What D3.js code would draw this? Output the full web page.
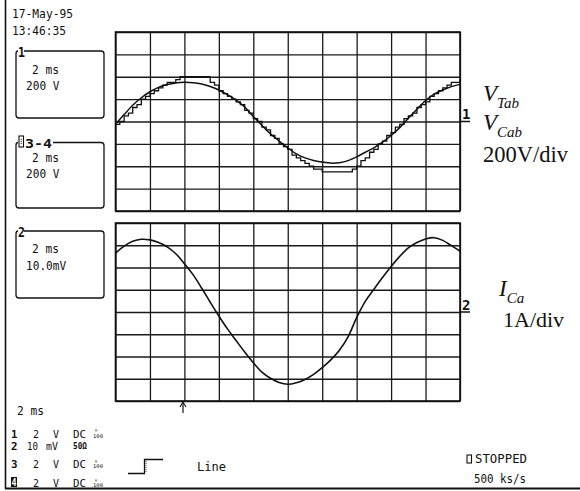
<!DOCTYPE html>
<html>
<head>
<meta charset="utf-8">
<script src="https://cdn.jsdelivr.net/npm/d3@7"></script>
<style>
  body { margin: 0; background: #fff; }
  .mono { font-family: "DejaVu Sans Mono", monospace; fill: #111; }
  .serif { font-family: "Liberation Serif", "Times New Roman", serif; fill: #111; }
</style>
</head>
<body>
<svg id="scope" width="580" height="491"></svg>
<script>
// time axis in ms, 2 ms/div
const timeTicks = [0, 2, 4, 6, 8, 10, 12, 14, 16, 18, 20];
const voltTicks = [-800, -600, -400, -200, 0, 200, 400, 600, 800];
const ampTicks = [-4, -3, -2, -1, 0, 1, 2, 3, 4];

// V_Cab (smooth), sampled every 0.5 ms
const tSmooth = d3.range(0, 20.01, 0.5);
const vCab = [-25, 62, 145, 212, 266, 305, 330, 345, 350, 347, 336, 313, 282, 240, 192, 130, 45, -35,
  -110, -175, -235, -290, -325, -348, -362, -372, -368, -350, -316, -275, -235, -185, -125, -55,
  30, 110, 188, 245, 282, 312, 332];

// V_Tab (stepped), sampled every 0.25 ms
const tStep = d3.range(0, 20.01, 0.25);
const vTab = [-25, 0, 50, 75, 125, 150, 200, 225, 250, 275, 300, 325, 350, 350, 375, 400, 400, 400, 400, 400,
  400, 400, 350, 325, 275, 250, 225, 200, 175, 150, 100, 75, 25, 0, -50, -75, -125, -150, -200, -225,
  -250, -300, -325, -350, -375, -400, -425, -425, -450, -450, -450, -450, -450, -450, -450, -425, -400, -350, -325, -275,
  -250, -200, -175, -125, -100, -50, -25, 25, 50, 75, 125, 150, 175, 225, 250, 275, 300, 325, 350, 350, 375];

// I_Ca, sampled every 0.5 ms (A)
const iCa = [2.64, 2.96, 3.18, 3.27, 3.24, 3.12, 2.93, 2.62, 2.17, 1.68, 1.08, 0.44, -0.18, -0.76, -1.28, -1.80,
  -2.28, -2.70, -2.98, -3.17, -3.25, -3.18, -3.03, -2.80, -2.50, -2.15, -1.72, -1.12, -0.25, 0.48, 1.02,
  1.55, 2.05, 2.50, 2.88, 3.12, 3.28, 3.34, 3.22, 2.98, 2.73];

const svg = d3.select("#scope");

const x = d3.scaleLinear().domain([0, 20]).range([115.5, 460]);
const yTop = d3.scaleLinear().domain([-800, 800]).range([211, 32]);
const yBot = d3.scaleLinear().domain([-4, 4]).range([401, 223]);

// outer frame (left + bottom edges of the scan)
svg.append("line").attr("x1", 5.5).attr("x2", 5.5).attr("y1", 0).attr("y2", 489).attr("stroke", "#111").attr("stroke-width", 1.6);
svg.append("line").attr("x1", 5).attr("x2", 580).attr("y1", 488.5).attr("y2", 488.5).attr("stroke", "#111").attr("stroke-width", 2);

function drawGrid(yScale, ticks, cls) {
  const g = svg.append("g").attr("class", cls);
  const [y0, y1] = yScale.range();
  g.append("g")
    .attr("transform", "translate(0," + y0 + ")")
    .call(d3.axisBottom(x).tickValues(timeTicks).tickSize(-(y0 - y1)).tickFormat(""))
    .call(a => a.select(".domain").remove());
  g.append("g")
    .attr("transform", "translate(" + x.range()[0] + ",0)")
    .call(d3.axisLeft(yScale).tickValues(ticks).tickSize(-(x.range()[1] - x.range()[0])).tickFormat(""))
    .call(a => a.select(".domain").remove());
  g.selectAll(".tick line").attr("stroke", "#1a1a1a").attr("stroke-width", 1.3);
  g.append("rect")
    .attr("x", x.range()[0]).attr("y", y1)
    .attr("width", x.range()[1] - x.range()[0]).attr("height", y0 - y1)
    .attr("fill", "none").attr("stroke", "#111").attr("stroke-width", 1.6);
  // channel marker line extending beyond grid
  g.append("line")
    .attr("x1", x.range()[1]).attr("x2", x.range()[1] + 10)
    .attr("y1", yScale(0)).attr("y2", yScale(0))
    .attr("stroke", "#111").attr("stroke-width", 1.5);
}
drawGrid(yTop, voltTicks, "grid-top");
drawGrid(yBot, ampTicks, "grid-bot");

const smoothLine = d3.line().x((d, i) => x(tSmooth[i])).y(d => yTop(d)).curve(d3.curveCardinal);
const stepLine = d3.line().x((d, i) => x(tStep[i])).y(d => yTop(d)).curve(d3.curveStepAfter);
const ampLine = d3.line().x((d, i) => x(tSmooth[i])).y(d => yBot(d)).curve(d3.curveCatmullRom);

svg.append("path").datum(vCab).attr("d", smoothLine).attr("fill", "none").attr("stroke", "#111").attr("stroke-width", 1.5);
svg.append("path").datum(vTab).attr("d", stepLine).attr("fill", "none").attr("stroke", "#111").attr("stroke-width", 1.3);
svg.append("path").datum(iCa).attr("d", ampLine).attr("fill", "none").attr("stroke", "#111").attr("stroke-width", 1.6);

// channel numbers on the right
svg.append("text").attr("class", "mono").attr("x", 462).attr("y", 119)
  .attr("font-size", 14).attr("font-weight", "bold").text("1");
svg.append("text").attr("class", "mono").attr("x", 462).attr("y", 310)
  .attr("font-size", 14).attr("font-weight", "bold").text("2");

// scope text helper
function mtext(s, px, py, opts) {
  opts = opts || {};
  const t = svg.append("text").attr("class", "mono")
    .attr("x", px).attr("y", py)
    .attr("font-size", opts.size || 12)
    .text(s);
  if (opts.bold) t.attr("font-weight", "bold");
  if (opts.w) t.attr("textLength", opts.w).attr("lengthAdjust", "spacingAndGlyphs");
  if (opts.fill) t.style("fill", opts.fill);
  return t;
}

mtext("17-May-95", 12, 18, {w: 61});
mtext("13:46:35", 12, 35, {w: 54});

// channel info boxes
const boxes = [
  {label: "1", y0: 51, y1: 118, lx: 24, l1: "2 ms", l2: "200 V", b1: 74, b2: 90},
  {label: "3-4", y0: 142.5, y1: 208, lx: 53, l1: "2 ms", l2: "200 V", b1: 162, b2: 178},
  {label: "2", y0: 231, y1: 298, lx: 24, l1: "2 ms", l2: "10.0mV", b1: 253, b2: 270}
];
boxes.forEach(b => {
  const path = d3.path();
  path.moveTo(b.lx, b.y0);
  path.lineTo(101, b.y0);
  path.quadraticCurveTo(104, b.y0, 104, b.y0 + 3);
  path.lineTo(104, b.y1 - 3);
  path.quadraticCurveTo(104, b.y1, 101, b.y1);
  path.lineTo(19, b.y1);
  path.quadraticCurveTo(16, b.y1, 16, b.y1 - 3);
  path.lineTo(16, b.y0 + 3);
  path.quadraticCurveTo(16, b.y0, 18, b.y0);
  svg.append("path").attr("d", path.toString()).attr("fill", "none").attr("stroke", "#111").attr("stroke-width", 1.3);
  if (b.label === "3-4") {
    svg.append("rect").attr("x", 19).attr("y", 136).attr("width", 4.5).attr("height", 11)
      .attr("fill", "none").attr("stroke", "#111").attr("stroke-width", 1.1);
    svg.append("line").attr("x1", 21.2).attr("x2", 21.2).attr("y1", 139).attr("y2", 145)
      .attr("stroke", "#111").attr("stroke-width", 1).attr("stroke-dasharray", "1,1");
    mtext("3-4", 25, 147.5, {bold: true, size: 13, w: 27});
  } else {
    mtext(b.label, 18, b.y0 + 5.5, {bold: true, size: 14, w: 7});
  }
  mtext(b.l1, 32, b.b1, {w: 27});
  mtext(b.l2, 26, b.b2, {w: b.l2.length * 6.7});
});

// bottom status area
mtext("2 ms", 17, 415, {w: 27});
const rows = [
  {n: "1", y: 437.5, a: "2", u: "V", c: "DC", probe: true},
  {n: "2", y: 449.5, a: "10", u: "mV", c: "50\u03A9", probe: false},
  {n: "3", y: 468, a: "2", u: "V", c: "DC", probe: true},
  {n: "4", y: 487, a: "2", u: "V", c: "DC", probe: true}
];
rows.forEach(r => {
  if (r.n === "4") {
    svg.append("rect").attr("x", 11).attr("y", r.y - 10).attr("width", 6).attr("height", 10).attr("fill", "#111");
    mtext(r.n, 11.5, r.y - 1, {bold: true, size: 10, w: 5, fill: "#fff"});
  } else {
    mtext(r.n, 11, r.y, {bold: true, size: 10.5, w: 6.5});
  }
  if (r.a === "10") {
    mtext(r.a, 27, r.y, {size: 10, w: 11});
    mtext(r.u, 46, r.y, {size: 10, w: 12});
    mtext(r.c, 73, r.y - 0.5, {size: 8, w: 14, bold: true});
  } else {
    mtext(r.a, 33, r.y, {size: 10, w: 6});
    mtext(r.u, 53, r.y, {size: 10, w: 6});
    mtext(r.c, 73, r.y, {size: 10, w: 13});
  }
  if (r.probe) {
    mtext("\u00D7", 94.5, r.y - 5.5, {size: 5});
    mtext("100", 93, r.y, {size: 5, w: 10});
  }
});

// trigger edge symbol
svg.append("path")
  .attr("d", d3.line()([[128, 473.5], [144.5, 473.5], [144.5, 459.5], [163, 459.5]]))
  .attr("fill", "none").attr("stroke", "#111").attr("stroke-width", 1.3);
svg.append("line").attr("x1", 146).attr("x2", 146).attr("y1", 461).attr("y2", 473)
  .attr("stroke", "#111").attr("stroke-width", 0.8).attr("stroke-dasharray", "1,1");
mtext("Line", 197, 471, {w: 29});

// trigger position arrow under the bottom grid
svg.append("line").attr("x1", 183).attr("x2", 183).attr("y1", 403).attr("y2", 413)
  .attr("stroke", "#111").attr("stroke-width", 1.2);
svg.append("path").attr("d", "M180,407 L183,402 L186,407").attr("fill", "none").attr("stroke", "#111").attr("stroke-width", 1.1);

// acquisition state
svg.append("rect").attr("x", 467).attr("y", 455).attr("width", 4.5).attr("height", 8)
  .attr("fill", "none").attr("stroke", "#111").attr("stroke-width", 1.1);
mtext("STOPPED", 475, 463, {w: 52});
mtext("500 ks/s", 474, 483, {w: 52});

// right-hand annotations
function sub(main, subTxt, px, py, italicMain) {
  const t = svg.append("text").attr("class", "serif").attr("x", px).attr("y", py).attr("font-size", 23);
  t.append("tspan").attr("font-style", italicMain ? "italic" : "normal").text(main);
  t.append("tspan").attr("font-style", "italic").attr("font-size", 15).attr("dy", 7).text(subTxt);
}
sub("V", "Tab", 483, 101, true);
sub("V", "Cab", 483, 130, true);
svg.append("text").attr("class", "serif").attr("x", 483).attr("y", 162).attr("font-size", 22.5).text("200V/div");
sub("I", "Ca", 499, 296, true);
svg.append("text").attr("class", "serif").attr("x", 503).attr("y", 327).attr("font-size", 22).text("1A/div");
</script>
</body>
</html>
